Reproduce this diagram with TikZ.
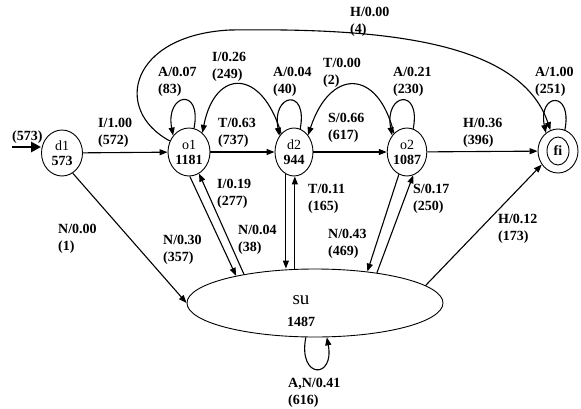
\documentclass[tikz,border=0pt]{standalone}
\usepackage{fontspec}
\setmainfont{Liberation Serif}
\usetikzlibrary{arrows.meta,shapes.geometric,calc}
\begin{document}
\begin{tikzpicture}[x=1pt,y=-1pt,
  st/.style={ellipse, draw, line width=0.9pt, inner sep=0pt, align=center,
    font=\fontsize{14}{15}\selectfont},
  lbl/.style={anchor=west, align=left, inner sep=0pt,
    font=\fontsize{14}{17}\selectfont\bfseries},
  edge/.style={-{Triangle[length=8pt,width=6pt]}, line width=1.1pt}]
\useasboundingbox (0,0) rectangle (581,408);
% states
\node[st, minimum width=41pt, minimum height=46pt] (d1) at (62,153) {d1\\\textbf{573}};
\node[st, minimum width=42pt, minimum height=48pt] (o1) at (189,152) {o1\\\textbf{1181}};
\node[st, minimum width=38pt, minimum height=48pt] (d2) at (294,152) {d2\\\textbf{944}};
\node[st, minimum width=37pt, minimum height=48pt] (o2) at (407,152) {o2\\\textbf{1087}};
\node[st, minimum width=40pt, minimum height=44pt, font=\fontsize{14}{15}\selectfont\bfseries] (fi) at (558,151) {fi};
\node[st, minimum width=22pt, minimum height=28pt] (fiin) at (558,151) {};
\node[st, minimum width=256pt, minimum height=68pt,
  label={[shift={(-14pt,-8pt)}, align=center, font=\fontsize{14}{22}\selectfont]center:{{\fontsize{19}{22}\selectfont su}\\\textbf{1487}}}] (su) at (315,303) {};
% initial arrow
\coordinate (start) at (12,147);
\draw[line width=2.6pt, -{Triangle[length=10pt,width=10pt]}] (start) -- (start -| d1.west);
\node[lbl] (l0) at (12,137) {(573)};
% main chain
\draw[edge] (d1) -- (o1);
\draw[edge] (o1) -- (d2);
\draw[edge] (d2) -- (o2);
\draw[edge] (o2) -- (fi);
% self loops
\draw[edge] (o1.78) .. controls +(8,-42) and +(-8,-42) .. (o1.134);
\draw[edge] (d2.75) .. controls +(8,-42) and +(-8,-42) .. (d2.132);
\draw[edge] (o2.75) .. controls +(8,-42) and +(-8,-42) .. (o2.132);
\draw[edge] (fi.72) .. controls +(8,-40) and +(-8,-40) .. (fi.124);
\draw[edge] (su.-105) .. controls +(-8,42) and +(8,42) .. (su.-71);
% back arcs
\draw[edge] (d2.125) .. controls (262,68) and (215,68) .. (o1.55);
\draw[edge] (o2.125) .. controls (378,68) and (330,68) .. (d2.50);
\coordinate (hmid) at (230,30);
\draw[edge] (o1.150) .. controls (112,110) and (130,35) .. (hmid) .. controls (380,28) and (520,40) .. (fi.110);
% to/from su
\draw[edge] (d1.-62) -- (su.180);
\draw[edge] (o1.-88) -- (su.161);
\draw[edge] (su.158) -- (o1.-65);
\draw[edge] (d2.-110) -- (d2.-110 |- su.north);
\draw[edge] (d2.-88 |- su.north) -- (d2.-88);
\draw[edge] (o2.-110) -- (su.31);
\draw[edge] (su.26) -- (o2.-75);
\draw[edge] (su.9) -- (fi.-140);
% labels
\node[lbl] (l1) at (98,132.5) {I/1.00\\(572)};
\node[lbl] (l2) at (218,132.5) {T/0.63\\(737)};
\node[lbl] (l3) at (328,127.5) {S/0.66\\(617)};
\node[lbl] (l4) at (463,132.5) {H/0.36\\(396)};
\node[lbl] (l5) at (158,81.5) {A/0.07\\(83)};
\node[lbl] (l6) at (212,66.5) {I/0.26\\(249)};
\node[lbl] (l7) at (273,81.5) {A/0.04\\(40)};
\node[lbl] (l8) at (323,72.5) {T/0.00\\(2)};
\node[lbl] (l9) at (393,81.5) {A/0.21\\(230)};
\node[lbl] (l10) at (535,81.5) {A/1.00\\(251)};
\node[lbl] (l11) at (350,21.5) {H/0.00\\(4)};
\node[lbl] (l12) at (58,238.5) {N/0.00\\(1)};
\node[lbl] (l13) at (163,249.5) {N/0.30\\(357)};
\node[lbl] (l14) at (217,193.5) {I/0.19\\(277)};
\node[lbl] (l15) at (238,239.5) {N/0.04\\(38)};
\node[lbl] (l16) at (308,198.5) {T/0.11\\(165)};
\node[lbl] (l17) at (328,243.5) {N/0.43\\(469)};
\node[lbl] (l18) at (413,198.5) {S/0.17\\(250)};
\node[lbl] (l19) at (498,228.5) {H/0.12\\(173)};
\node[lbl] (l20) at (288,392.5) {A,N/0.41\\(616)};
\end{tikzpicture}
\end{document}
